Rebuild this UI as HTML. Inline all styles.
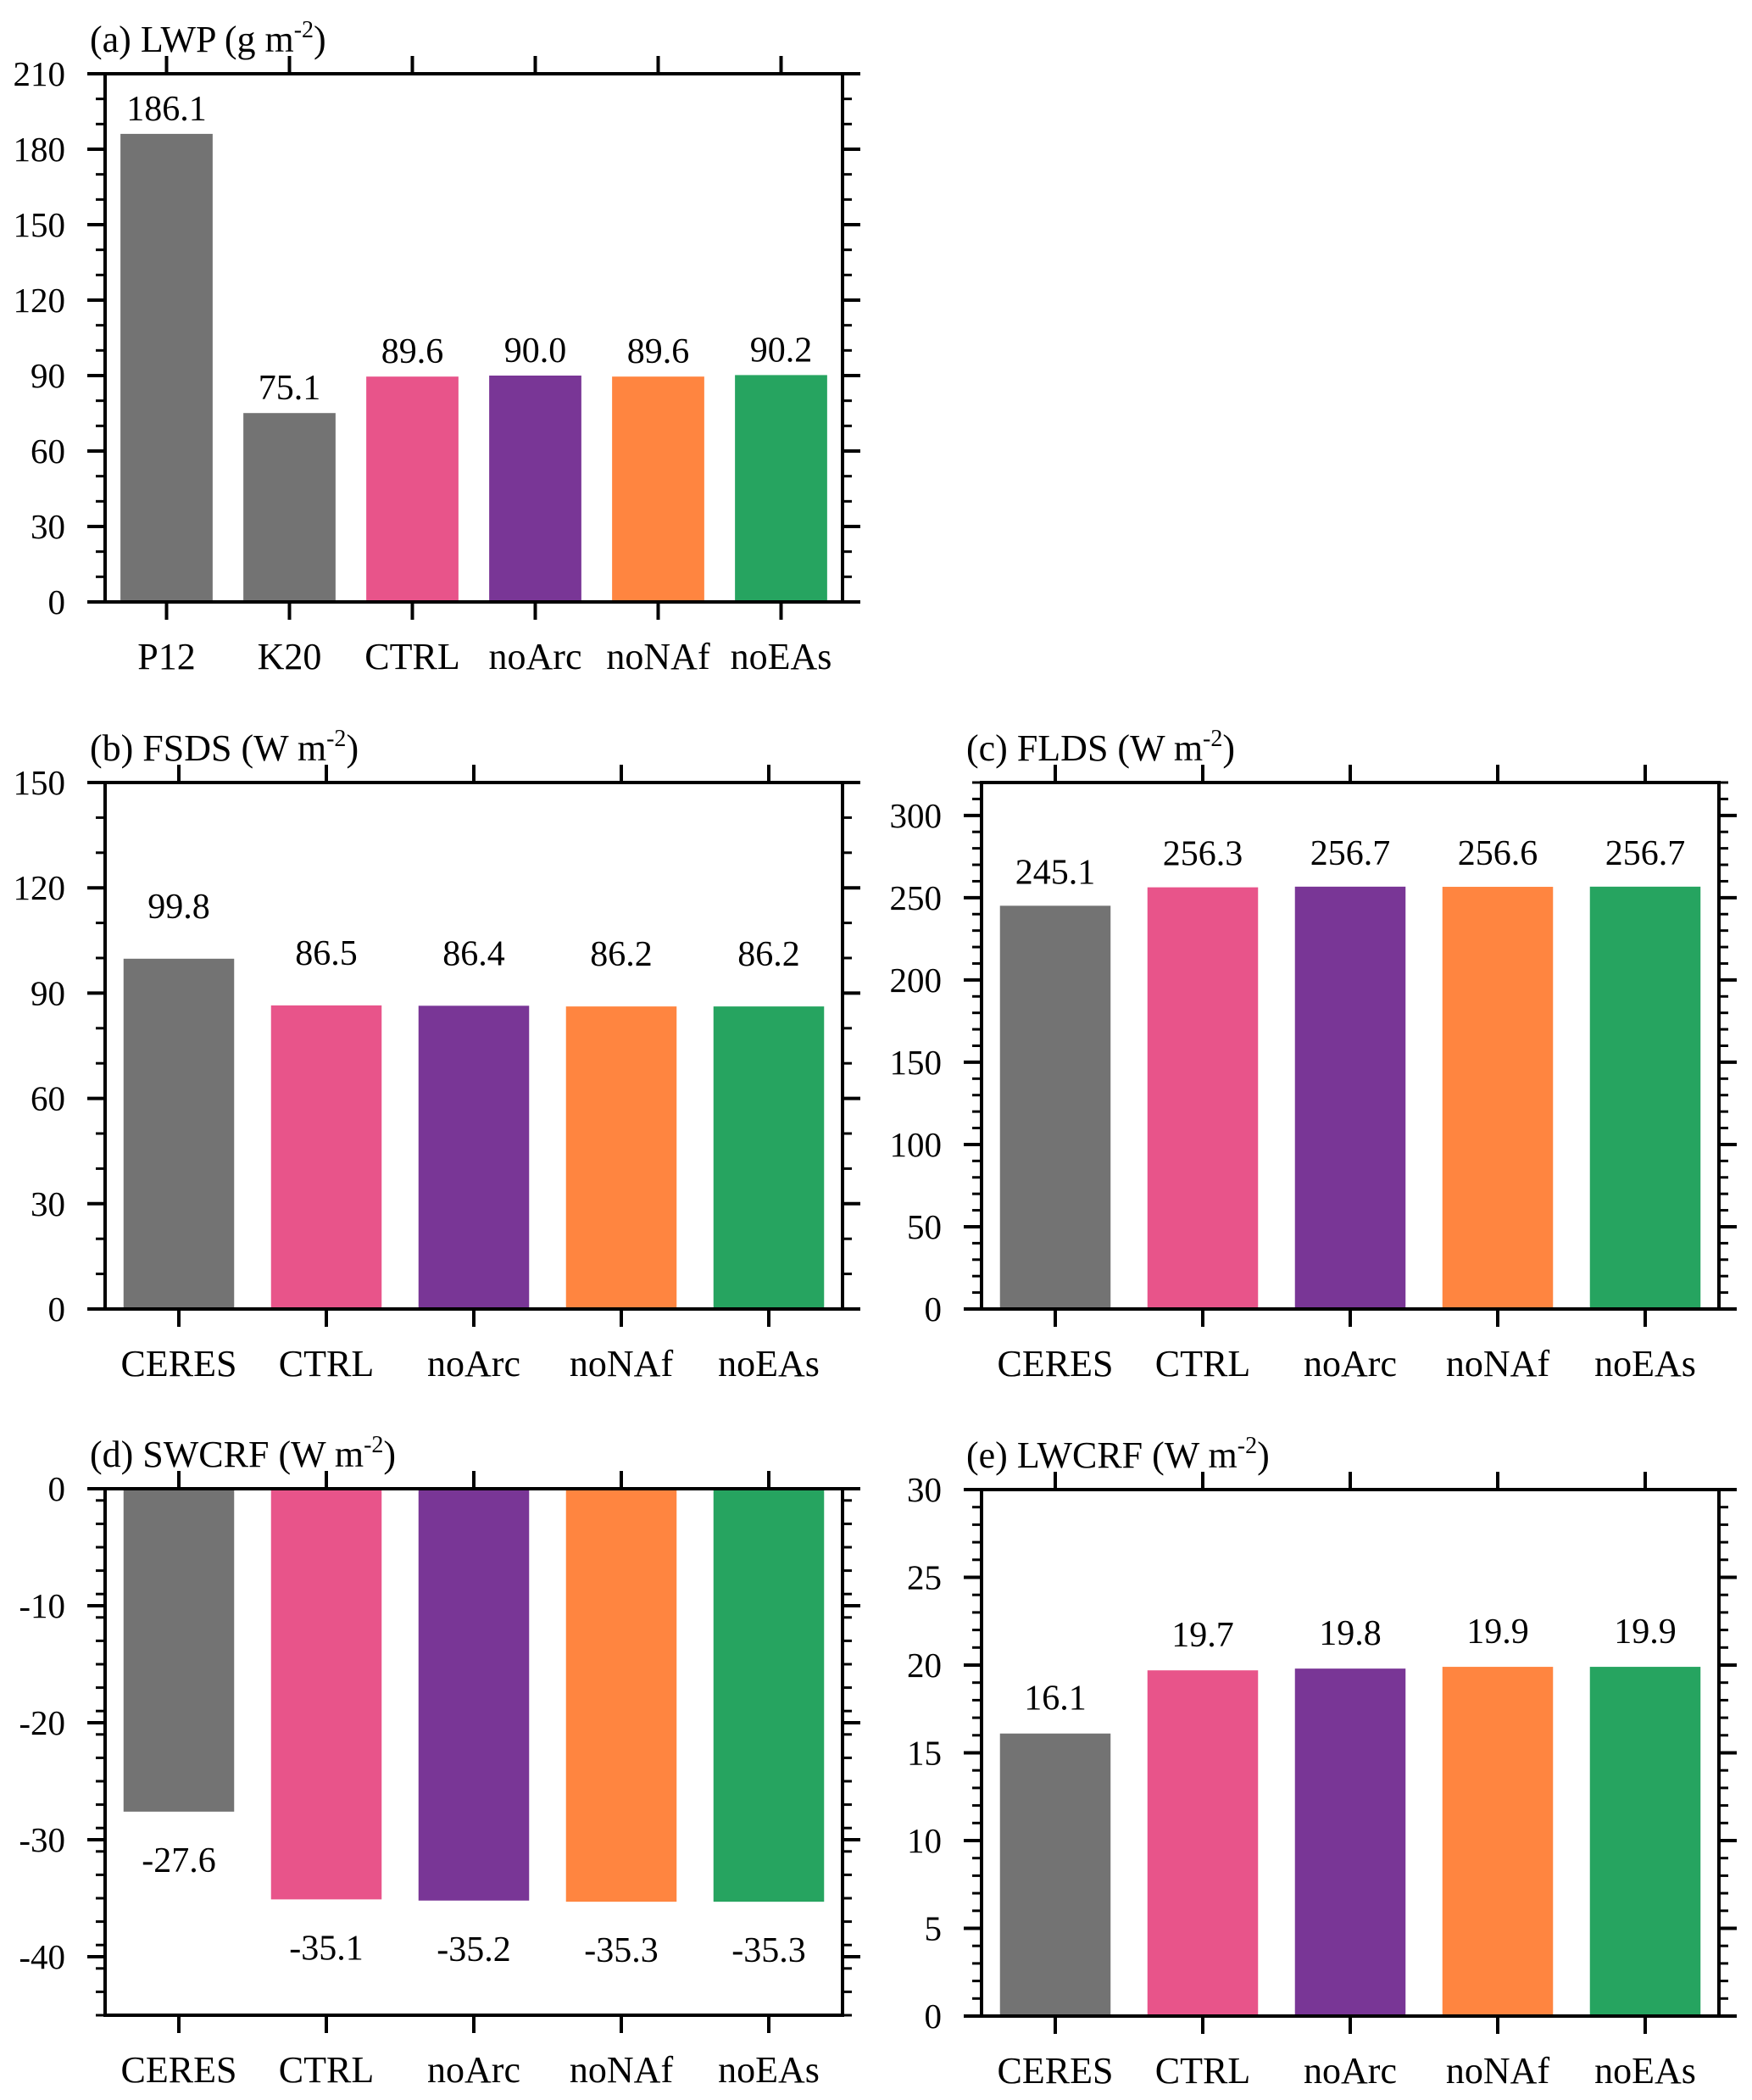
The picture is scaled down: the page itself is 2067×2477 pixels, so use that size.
<!DOCTYPE html>
<html>
<head>
<meta charset="utf-8">
<style>
html,body{margin:0;padding:0;background:#fff;}
svg{display:block;}
text,tspan{font-family:"Liberation Serif","DejaVu Serif",serif;fill:#000;}
</style>
</head>
<body>
<svg id="fig" width="2067" height="2477" viewBox="0 0 2067 2477" xmlns="http://www.w3.org/2000/svg"></svg>
<script>
// ---- data ----
const catsA = ["P12","K20","CTRL","noArc","noNAf","noEAs"];
const valsA = [186.1, 75.1, 89.6, 90.0, 89.6, 90.2];
const colsA = ["#737373","#737373","#e8548a","#793696","#ff8540","#26a460"];
const catsB = ["CERES","CTRL","noArc","noNAf","noEAs"];
const valsB = [99.8, 86.5, 86.4, 86.2, 86.2];
const valsC = [245.1, 256.3, 256.7, 256.6, 256.7];
const valsD = [-27.6, -35.1, -35.2, -35.3, -35.3];
const valsE = [16.1, 19.7, 19.8, 19.9, 19.9];
const colsB = ["#737373","#e8548a","#793696","#ff8540","#26a460"];
const ticksA = [0,30,60,90,120,150,180,210];
const ticksB = [0,30,60,90,120,150];
const ticksC = [0,50,100,150,200,250,300];
const ticksD = [0,-10,-20,-30,-40];
const ticksE = [0,5,10,15,20,25,30];

const NS = "http://www.w3.org/2000/svg";
const FONT = '"Liberation Serif", "DejaVu Serif", serif';
const svg = document.getElementById('fig');
function mk(tag, attrs, parent){
  const e = document.createElementNS(NS, tag);
  for (const k in attrs) e.setAttribute(k, attrs[k]);
  if (tag === 'text') e.setAttribute('font-family', FONT);
  (parent||svg).appendChild(e);
  return e;
}

const panels = [
  {id:"a", title:"(a) LWP (g m", x:124, y:87, w:870, h:623, min:0, max:210, ticks:ticksA, minor:10, cats:catsA, vals:valsA, cols:colsA, off:30},
  {id:"b", title:"(b) FSDS (W m", x:124, y:923, w:870, h:621, min:0, max:150, ticks:ticksB, minor:10, cats:catsB, vals:valsB, cols:colsB, off:62},
  {id:"c", title:"(c) FLDS (W m", x:1158, y:923, w:870, h:621, min:0, max:320, ticks:ticksC, minor:10, cats:catsB, vals:valsC, cols:colsB, off:40},
  {id:"d", title:"(d) SWCRF (W m", x:124, y:1756, w:870, h:621, min:-45, max:0, ticks:ticksD, minor:2, cats:catsB, vals:valsD, cols:colsB, off:57},
  {id:"e", title:"(e) LWCRF (W m", x:1158, y:1757, w:870, h:621, min:0, max:30, ticks:ticksE, minor:1, cats:catsB, vals:valsE, cols:colsB, off:42}
];

panels.forEach(p => {
  const g = mk('g', {});
  
  
  const yS = v => p.y + p.h - (v - p.min) / (p.max - p.min) * p.h;
  const n = p.cats.length;
  const step = p.w / n;
  const xC = i => p.x + step * (i + 0.5);
  const bw = step * 0.75;
  const base = yS(Math.max(p.min, Math.min(0, p.max)));

  p.vals.forEach((v, i) => {
    const y0 = yS(v);
    const r = mk('rect', {x: xC(i) - bw/2, y: Math.min(y0, base), width: bw, height: Math.abs(base - y0), fill: p.cols[i]}, g);
    
    
    const ly = v >= 0 ? y0 - p.off : y0 + p.off;
    const t = mk('text', {x: xC(i), y: ly + 14, 'font-size': 42, 'text-anchor': 'middle'}, g);
    t.textContent = v.toFixed(1);
    
    
  });

  const fr = mk('rect', {x: p.x, y: p.y, width: p.w, height: p.h, fill: 'none', stroke: '#000', 'stroke-width': 4}, g);
  
  

  for (let v = p.min; v <= p.max + 1e-9; v += p.minor) {
    const yy = yS(v);
    mk('line', {x1: p.x - 11, x2: p.x, y1: yy, y2: yy, stroke: '#000', 'stroke-width': 3}, g);
    mk('line', {x1: p.x + p.w, x2: p.x + p.w + 11, y1: yy, y2: yy, stroke: '#000', 'stroke-width': 3}, g);
  }
  p.ticks.forEach(v => {
    const yy = yS(v);
    mk('line', {x1: p.x - 21, x2: p.x, y1: yy, y2: yy, stroke: '#000', 'stroke-width': 4}, g);
    mk('line', {x1: p.x + p.w, x2: p.x + p.w + 21, y1: yy, y2: yy, stroke: '#000', 'stroke-width': 4}, g);
    const t = mk('text', {x: p.x - 47, y: yy + 14, 'font-size': 41, 'text-anchor': 'end'}, g);
    t.textContent = String(v);
    
    
  });
  p.cats.forEach((c, i) => {
    mk('line', {x1: xC(i), x2: xC(i), y1: p.y - 21, y2: p.y, stroke: '#000', 'stroke-width': 4}, g);
    mk('line', {x1: xC(i), x2: xC(i), y1: p.y + p.h, y2: p.y + p.h + 21, stroke: '#000', 'stroke-width': 4}, g);
    const t = mk('text', {x: xC(i), y: p.y + p.h + 79, 'font-size': 44, 'text-anchor': 'middle'}, g);
    t.textContent = c;
    
    
  });
  const tt = mk('text', {x: p.x - 18, y: p.y - 26, 'font-size': 44}, g);
  
  
  tt.appendChild(document.createTextNode(p.title));
  const sup = mk('tspan', {'font-size': 28, dy: -17}, tt);
  sup.textContent = '-2';
  const close = mk('tspan', {'font-size': 44, dy: 17}, tt);
  close.textContent = ')';
});
</script>
</body>
</html>
